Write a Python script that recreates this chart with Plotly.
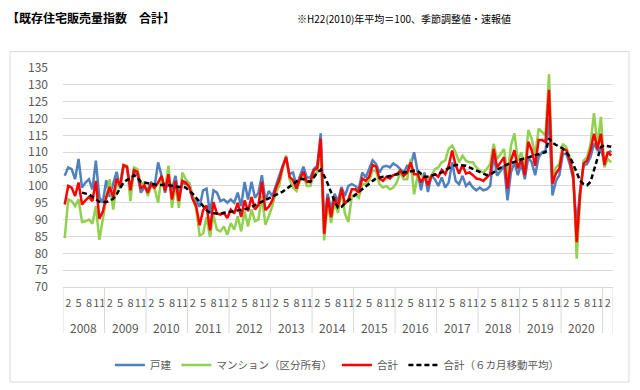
import plotly.graph_objects as go

# ---------------- data (monthly, 2008-01 .. 2021-03) ----------------
year_labels = ["2008", "2009", "2010", "2011", "2012", "2013", "2014",
               "2015", "2016", "2017", "2018", "2019", "2020"]
month_tick_labels = ["2", "5", "8", "11"]
series_names = ["戸建", "マンション（区分所有）", "合計", "合計（６カ月移動平均）"]

detached = [  # 戸建
    103, 105.5, 105, 102, 108, 99.5, 101, 102, 99, 107.5, 96.7, 95,
    101.7, 96.7, 100.7, 104.2, 99.2, 106, 105.5, 99, 104, 103.5, 98, 99.5,
    99, 101, 100, 107, 103, 98, 102, 99, 103, 97, 101, 100.5,
    100.7, 96.7, 95.5, 93.8, 98.7, 99.2, 91.8, 98.7, 98, 95.5, 96, 95,
    96, 95, 98, 94, 101.2, 96, 101.2, 96.5, 98, 103.2, 95.7, 98.5,
    97, 100, 103, 106, 108, 103.5, 104, 100, 103, 105.7, 102.5, 102.5,
    105, 106, 115.6, 89.3, 97.7, 93, 97.7, 95.5, 99.7, 97, 100, 100.5,
    100, 99, 104, 102.5, 105, 107.6, 106.5, 104, 105.7, 106, 105.5, 106.7,
    106, 105, 104, 106, 106, 110, 104, 98.7, 104, 98.2, 103, 102,
    100, 102.5, 99.5, 101, 107, 101.5, 100.5, 103, 100, 101, 99.5, 98.7,
    99.5, 98.7, 99, 100, 109.5, 103, 104.5, 106, 95.7, 104, 107, 103.2,
    106.7, 102, 108.5, 107, 103.2, 108.5, 110, 110.5, 120, 97.2, 101.5, 103.2,
    109.5, 109.5, 106.5, 102, 88, 99, 106, 106.5, 108.6, 112.6, 110.6, 111,
    107.1, 109.6, 110.5,
]

mansion = [  # マンション（区分所有）
    84.5, 96, 95.5, 94, 96, 89.3, 89.5, 90, 88.8, 94, 84, 90,
    94.7, 102, 93, 100, 101, 106.2, 106, 95.5, 105.5, 105, 100.5, 101,
    97, 100, 99, 95, 103, 99, 106, 93.5, 100, 93.5, 104, 102,
    100.7, 96.5, 93, 85.3, 85.8, 90.8, 84.8, 91.3, 87, 86.5, 88, 85.5,
    89, 87, 91, 86.5, 92.5, 88, 93, 89.5, 90, 97, 88.5, 91,
    94, 98, 100, 105, 109, 102, 99.5, 98.5, 101.5, 103, 100, 100,
    103.5, 104, 112, 83.8, 95, 89, 95, 92, 98.5, 91.8, 89.3, 97,
    97.5, 96.5, 100.5, 100.5, 101.5, 104.5, 104.5, 100.5, 99.5, 100, 99, 99.5,
    101, 104, 102, 102, 108, 97.5, 103, 103.5, 102, 102, 103, 105,
    105.5, 107, 107.5, 111, 112, 110, 107, 109, 107.5, 107, 107, 105.5,
    104.5, 104, 105, 106.5, 112.5, 108, 109.5, 111, 103, 112, 115.6, 107.5,
    110, 104.5, 116.6, 114, 109, 117, 116, 115, 133.2, 102.7, 105.5, 106.5,
    112.5, 111.5, 108.5, 104.5, 78.4, 96.5, 107.5, 108.5, 112.5, 121.6, 112, 120.5,
    105.5, 108, 107,
]

total = [  # 合計
    94.5, 100, 99.5, 97, 101, 94.5, 95.7, 96.7, 95.5, 101.5, 90.3, 92.3,
    96.7, 99.7, 96.7, 102.2, 100, 106.2, 105.7, 98.7, 104.7, 104.2, 99.2, 100.2,
    98, 100.5, 99.5, 101, 103, 98.5, 103.5, 96, 101.5, 95.5, 101.5, 101,
    99.7, 96, 94, 88.3, 92.8, 94.2, 86.8, 95.2, 91.8, 91.5, 92, 90.5,
    93, 91.8, 95, 90.8, 95.7, 92.5, 96.7, 93, 94.3, 101.2, 92.8, 93.8,
    95.7, 99.2, 101.7, 105.7, 108.6, 102.7, 101.7, 99.2, 102.2, 104.2, 101.2, 101.2,
    104.7, 105.2, 114, 85.8, 96.7, 90.8, 96.7, 93.7, 99.2, 94.7, 96, 99,
    99, 98, 102.2, 101.5, 102.7, 106.2, 105.7, 102.2, 101.5, 102.7, 102.2, 103.2,
    103.5, 104.5, 103, 104, 107, 103.5, 103.5, 101, 103, 100.2, 103, 103.5,
    102.7, 104.7, 103.5, 106, 110.5, 106.2, 103.7, 106.2, 103.7, 104, 103.2, 102.2,
    102, 101.5, 102.5, 103.5, 111, 105.5, 107, 108.5, 99.2, 107.6, 110.6, 105.2,
    108.2, 103.2, 113.1, 110.6, 106, 113.6, 113.6, 113, 128.5, 100.7, 103.7, 105.2,
    111, 110.6, 107.6, 103.2, 83.3, 97.8, 106.7, 107.5, 110.6, 115.5, 111, 115.5,
    106.2, 110.1, 109,
]

total_ma6 = [  # 合計（６カ月移動平均）
    None, None, None, None, None, 98, 97.8, 97.5, 96.8, 96, 95.3, 95.2,
    95.2, 95.6, 96.2, 97.5, 99.2, 101, 101.8, 102.2, 103.2, 102.5, 101.2, 101,
    100.7, 100.5, 100.2, 100.2, 100.3, 100.4, 100.2, 100, 99.7, 99.7, 99.7, 99.5,
    98.5, 97.7, 96.5, 95.2, 94, 92.8, 92, 91.8, 91.8, 91.8, 92, 92.2,
    92.3, 92.5, 92.7, 93, 93.2, 93.3, 93.8, 94.3, 94.8, 95.3, 95.7, 96.2,
    96.8, 97.2, 97.7, 98.3, 99, 99.7, 100.5, 101.3, 102.2, 102, 101.5, 101.2,
    102.5, 104, 104.8, 103, 100.7, 98, 95.5, 93.5, 93.8, 94.8, 95.7, 96.5,
    97.5, 98.2, 99, 99.8, 100.7, 101.5, 102.2, 102.5, 102.7, 102.7, 102.9, 103.2,
    103.5, 103.7, 104, 104.2, 104.4, 104.5, 104.5, 103.5, 102.7, 102.8, 103, 103.2,
    103.6, 104, 104.7, 105.3, 105.8, 106.2, 106.2, 106.2, 106, 105.5, 105, 104.7,
    104, 103.5, 103.2, 103.5, 104, 104.8, 105.5, 106, 106.4, 106.7, 107.1, 107.5,
    107.9, 108.2, 108.5, 108.8, 109.1, 109.3, 109.6, 110, 114.1, 112.8, 112.2, 111.6,
    111.1, 110, 108.6, 106.5, 104, 101.5, 100.5, 100.2, 101.2, 104.5, 108.5, 111.6,
    112, 111.8, 111.6,
]

# ---------------- figure ----------------
n = len(total)
x = list(range(n))  # month index (category position)

GRID = "#d9d9d9"
TXT = "#595959"
FONT = "Noto Sans CJK JP"

fig = go.Figure()
trace_styles = [
    (detached, "#4f81bd", "solid"),
    (mansion, "#92d050", "solid"),
    (total, "#ff0000", "solid"),
    (total_ma6, "#000000", "5px,3px"),
]
for (vals, color, dash), name in zip(trace_styles, series_names):
    fig.add_trace(go.Scatter(
        x=x, y=vals, mode="lines", name=name,
        line=dict(color=color, width=2.5, dash=dash),
        connectgaps=False,
    ))

# month tick labels: Feb, May, Aug, Nov of each year (and Feb 2021)
month_positions = [1, 4, 7, 10]
tickvals, ticktext = [], []
for k in range(len(year_labels) + 1):
    for pos, lab in zip(month_positions, month_tick_labels):
        if 12 * k + pos < n:
            tickvals.append(12 * k + pos)
            ticktext.append(lab)

shapes = []
# year separators
for k in range(len(year_labels) + 1):
    shapes.append(dict(type="line", xref="x", yref="paper", x0=12 * k - 0.5, x1=12 * k - 0.5,
                       y0=0, y1=-0.21, line=dict(color=GRID, width=1)))
shapes.append(dict(type="line", xref="x", yref="paper", x0=n - 0.5, x1=n - 0.5,
                   y0=0, y1=-0.21, line=dict(color=GRID, width=1)))
# chart-area border
shapes.append(dict(type="rect", xref="paper", yref="paper", x0=-0.0964, x1=1.029,
                   y0=-0.434, y1=1.075, line=dict(color=GRID, width=1), fillcolor="rgba(0,0,0,0)"))

annotations = []
for k, yl in enumerate(year_labels):
    annotations.append(dict(x=12 * k + 5.5, y=-0.183, xref="x", yref="paper", text=yl,
                            showarrow=False, xanchor="center", yanchor="middle",
                            font=dict(family=FONT, size=12, color=TXT)))
annotations.append(dict(x=-0.106, y=1.232, xref="paper", yref="paper",
                        text="<b>【既存住宅販売量指数　合計】</b>", showarrow=False,
                        xanchor="left", yanchor="middle",
                        font=dict(family=FONT, size=12, color="#000000")))
annotations.append(dict(x=0.819, y=1.226, xref="paper", yref="paper",
                        text="※H22(2010)年平均＝100、季節調整値・速報値", showarrow=False,
                        xanchor="right", yanchor="middle",
                        font=dict(family=FONT, size=10, color="#000000")))

# the page body has an 8px default margin, so the figure is shifted by it
fig.update_layout(
    width=632, height=382,
    margin=dict(l=55, r=27, t=60, b=103, autoexpand=False),
    paper_bgcolor="white", plot_bgcolor="white",
    font=dict(family=FONT, size=12, color=TXT),
    showlegend=True,
    legend=dict(orientation="h", x=0.498, xanchor="center", y=-0.356, yanchor="middle",
                font=dict(family=FONT, size=10.5, color=TXT), bgcolor="rgba(0,0,0,0)"),
    xaxis=dict(range=[-0.5, n - 0.5], tickmode="array", tickvals=tickvals, ticktext=ticktext,
               tickangle=0, automargin=False,
               showgrid=False, zeroline=False, showline=True, linecolor=GRID, ticks="",
               tickfont=dict(family=FONT, size=11, color=TXT), ticklabelstandoff=6, fixedrange=True),
    yaxis=dict(range=[70, 135], tick0=70, dtick=5, gridcolor=GRID, gridwidth=1, automargin=False,
               zeroline=False, showline=False, ticks="",
               tickfont=dict(family=FONT, size=12, color=TXT), ticklabelstandoff=14, fixedrange=True),
    shapes=shapes, annotations=annotations,
)

fig.write_html("out.html")
